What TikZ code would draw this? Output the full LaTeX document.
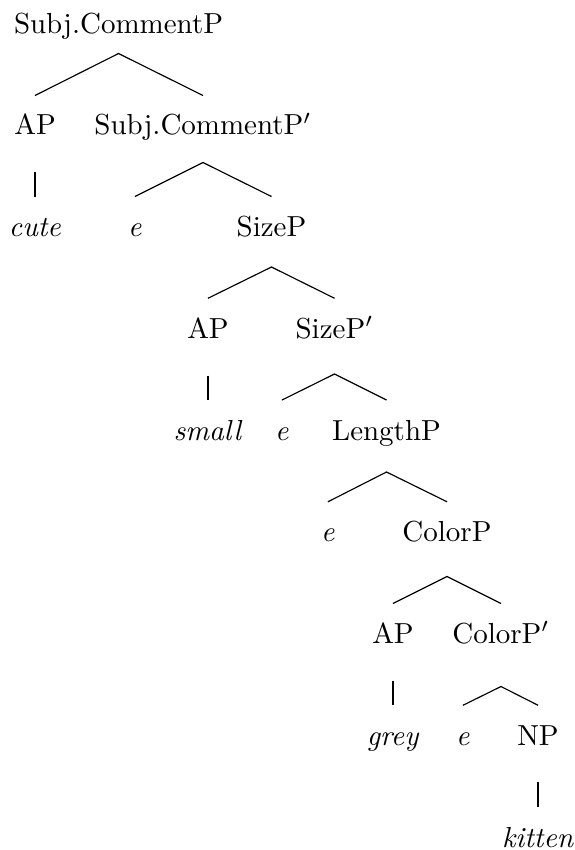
\documentclass[tikz,border=0pt]{standalone}
\begin{document}
\begin{tikzpicture}[x=0.345pt,y=-0.345pt,
  lbl/.style={anchor=base,inner sep=0pt,font=\fontsize{10}{12}\selectfont},
  br/.style={line width=0.4pt}]
\useasboundingbox (0,0) rectangle (575,850);
% labels
\node[lbl] (scp) at (118.5,33) {Subj.CommentP};
\node[lbl] (ap1) at (35,134.75) {AP};
\node[lbl] (scpp) at (203,134.75) {Subj.CommentP$'$};
\node[lbl] (cute) at (35,236.5) {\textit{cute}};
\node[lbl] (e1) at (135,236.5) {\textit{e}};
\node[lbl] (sizep) at (271.5,236.5) {SizeP};
\node[lbl] (ap2) at (208,338.25) {AP};
\node[lbl] (sizepp) at (334.5,338.25) {SizeP$'$};
\node[lbl] (small) at (208,440) {\textit{small}};
\node[lbl] (e2) at (282,440) {\textit{e}};
\node[lbl] (lengthp) at (386.5,440) {LengthP};
\node[lbl] (e3) at (328,541.75) {\textit{e}};
\node[lbl] (colorp) at (447,541.75) {ColorP};
\node[lbl] (ap3) at (393,643.5) {AP};
\node[lbl] (colorpp) at (501,643.5) {ColorP$'$};
\node[lbl] (grey) at (393,745.25) {\textit{grey}};
\node[lbl] (e4) at (463,745.25) {\textit{e}};
\node[lbl] (np) at (538,745.25) {NP};
\node[lbl] (kitten) at (538,847) {\textit{kitten}};
% branch points
\coordinate (t0) at (118.5,53.5);
\coordinate (b0l) at (35,95.5);
\coordinate (b0r) at (203,95.5);
\coordinate (t1) at (203,162.5);
\coordinate (b1l) at (135,196.5);
\coordinate (b1r) at (271.5,196.5);
\coordinate (v1t) at (35,172);
\coordinate (v1b) at (35,196.5);
\coordinate (t2) at (271.5,267);
\coordinate (b2l) at (208,298.25);
\coordinate (b2r) at (334.5,298.25);
\coordinate (v2t) at (208,375.5);
\coordinate (v2b) at (208,400);
\coordinate (t3) at (334.5,374);
\coordinate (b3l) at (282,400);
\coordinate (b3r) at (386.5,400);
\coordinate (t4) at (386.5,472);
\coordinate (b4l) at (328,501.75);
\coordinate (b4r) at (447,501.75);
\coordinate (t5) at (447,576.5);
\coordinate (b5l) at (393,603.5);
\coordinate (b5r) at (501,603.5);
\coordinate (v5t) at (393,680.5);
\coordinate (v5b) at (393,705.25);
\coordinate (t6) at (501,686.5);
\coordinate (b6l) at (463,705.25);
\coordinate (b6r) at (538,705.25);
\coordinate (v6t) at (538,782.25);
\coordinate (v6b) at (538,807);
% edges
\draw[br] (b0l) -- (t0) -- (b0r);
\draw[br] (b1l) -- (t1) -- (b1r);
\draw[br] (v1t) -- (v1b);
\draw[br] (b2l) -- (t2) -- (b2r);
\draw[br] (v2t) -- (v2b);
\draw[br] (b3l) -- (t3) -- (b3r);
\draw[br] (b4l) -- (t4) -- (b4r);
\draw[br] (b5l) -- (t5) -- (b5r);
\draw[br] (v5t) -- (v5b);
\draw[br] (b6l) -- (t6) -- (b6r);
\draw[br] (v6t) -- (v6b);
\end{tikzpicture}
\end{document}
